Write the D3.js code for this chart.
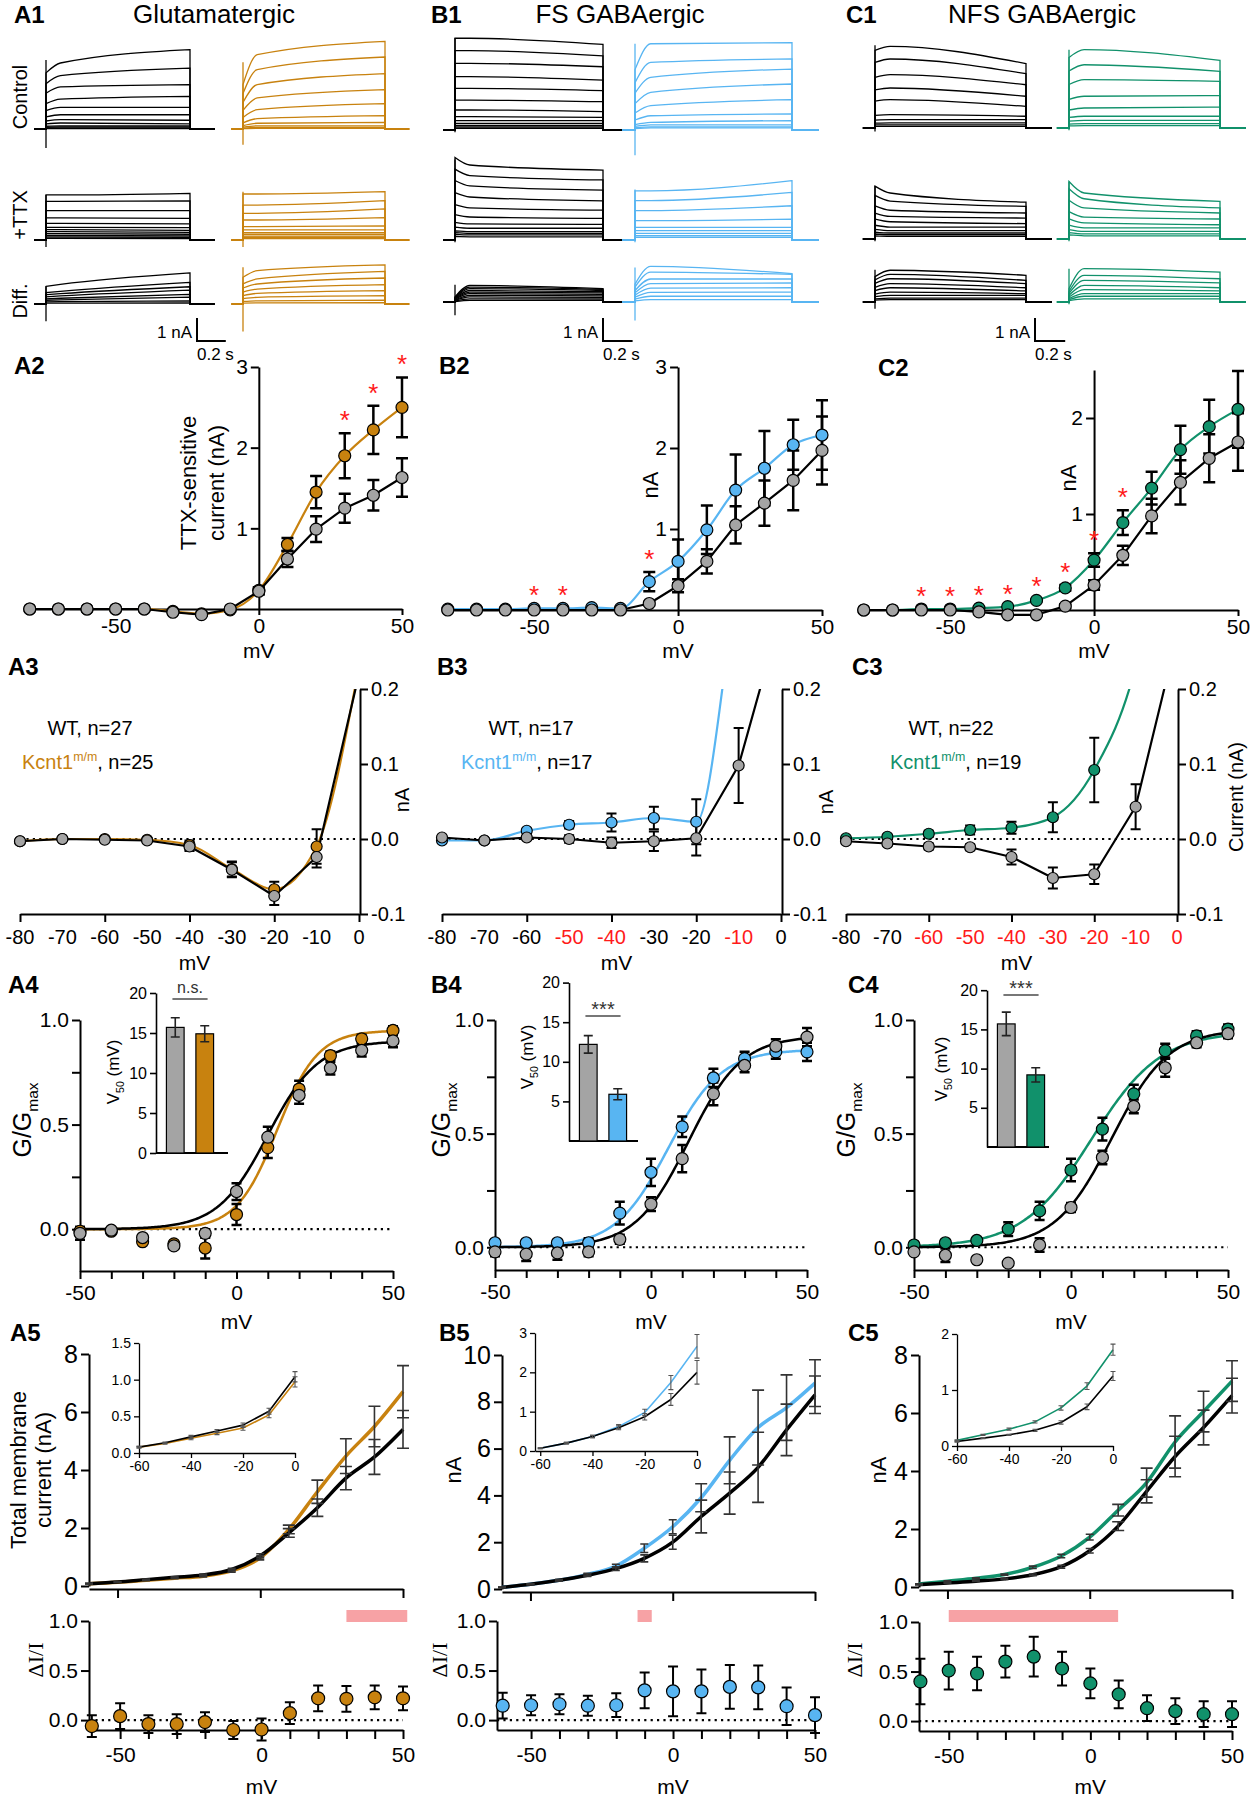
<!DOCTYPE html>
<html>
<head>
<meta charset="utf-8">
<script src="https://cdn.jsdelivr.net/npm/d3@7/dist/d3.min.js"></script>
<style>
  body { margin: 0; background: #fff; }
</style>
</head>
<body>
<script>
// ---------- row 1: current families, each trace = [nA at 0.1 s, nA at end of 1 s step] ----------
var trAControlWt = [[2.87,3.45],[2.32,2.65],[1.83,1.93],[1.3,1.42],[0.94,0.94],[0.62,0.62],[0.41,0.38],[0.26,0.22],[0.14,0.14],[0.09,0.09],[0.05,0.05],[0.02,0.02]];
var trAControlKo = [[3.23,3.81],[2.58,3.13],[1.93,2.41],[1.35,1.71],[0.84,1.1],[0.45,0.58],[0.25,0.29],[0.14,0.14],[0.07,0.07],[0.03,0.03]];
var trATtxWt = [[1.96,2.03],[1.68,1.7],[1.28,1.28],[0.96,0.94],[0.72,0.7],[0.55,0.54],[0.45,0.42],[0.36,0.33],[0.28,0.25],[0.2,0.18],[0.13,0.12],[0.07,0.06]];
var trATtxKo = [[2.0,2.1],[1.52,1.71],[1.16,1.35],[0.87,0.97],[0.58,0.61],[0.44,0.44],[0.32,0.32],[0.25,0.25],[0.17,0.17],[0.12,0.12],[0.06,0.06]];
var trADiffWt = [[0.85,1.35],[0.55,0.94],[0.45,0.75],[0.35,0.6],[0.25,0.42],[0.18,0.3],[0.1,0.14],[0.04,0.05]];
var trADiffKo = [[1.45,1.7],[1.09,1.42],[0.87,1.13],[0.65,0.84],[0.46,0.58],[0.29,0.36],[0.14,0.17],[0.05,0.06]];
var trBControlWt = [[3.99,3.72],[3.45,3.22],[2.9,2.75],[2.32,2.17],[1.81,1.71],[1.3,1.23],[0.87,0.8],[0.58,0.55],[0.41,0.41],[0.29,0.29],[0.2,0.2],[0.13,0.13],[0.07,0.07]];
var trBControlKo = [[3.75,3.8],[2.94,3.09],[2.29,2.65],[1.64,2.0],[1.06,1.32],[0.62,0.7],[0.33,0.41],[0.22,0.22],[0.14,0.14],[0.09,0.09]];
var trBTtxWt = [[3.26,3.04],[2.8,2.61],[2.35,2.17],[1.87,1.7],[1.4,1.3],[1.0,0.94],[0.7,0.68],[0.51,0.51],[0.36,0.36],[0.29,0.29],[0.22,0.22],[0.14,0.14]];
var trBTtxKo = [[2.14,2.58],[1.71,2.07],[1.28,1.49],[0.84,0.91],[0.55,0.55],[0.41,0.41],[0.29,0.29],[0.19,0.19],[0.12,0.12]];
var trBDiffWt = [[0.72,0.58],[0.65,0.55],[0.58,0.5],[0.5,0.45],[0.43,0.4],[0.36,0.33],[0.29,0.27],[0.22,0.2],[0.14,0.13],[0.07,0.07]];
var trBDiffKo = [[1.55,1.23],[1.3,1.2],[1.0,1.0],[0.8,0.83],[0.6,0.62],[0.42,0.43],[0.25,0.25],[0.1,0.1]];
var trCControlWt = [[3.55,2.8],[3.0,2.36],[2.32,1.88],[1.74,1.38],[1.23,0.94],[0.58,0.51],[0.36,0.36],[0.22,0.22],[0.14,0.14],[0.07,0.07]];
var trCControlKo = [[3.41,2.94],[2.75,2.46],[2.1,2.03],[1.38,1.41],[0.87,0.91],[0.51,0.51],[0.33,0.33],[0.19,0.19],[0.1,0.1]];
var trCTtxWt = [[2.0,1.6],[1.65,1.42],[1.25,1.13],[0.98,0.91],[0.75,0.67],[0.52,0.52],[0.36,0.36],[0.26,0.26],[0.19,0.19],[0.12,0.12]];
var trCTtxKo = [[2.0,1.64],[1.75,1.35],[1.35,1.13],[0.95,0.87],[0.7,0.62],[0.48,0.48],[0.33,0.33],[0.22,0.22],[0.14,0.14]];
var trCDiffWt = [[1.38,1.16],[1.2,0.94],[1.01,0.8],[0.8,0.62],[0.62,0.48],[0.43,0.36],[0.29,0.29],[0.17,0.17],[0.1,0.1]];
var trCDiffKo = [[1.45,1.3],[1.16,1.01],[0.94,0.83],[0.72,0.62],[0.54,0.48],[0.36,0.36],[0.25,0.25],[0.14,0.14]];
// level right after onset as a fraction of the 0.1 s level (ctl wt, ctl ko, ttx wt, ttx ko, diff wt, diff ko)
var onsetA = [0.85, 0.6, 1, 1, 0.9, 0.8];
var onsetB = [1, 0.7, 1.1, 1, 0.3, 0.5];
var onsetC = [0.95, 0.9, 1.15, 1.25, 0.8, 0.4];
// capacitive spike at onset [min, max] nA
var spikeA = [[-0.83,3.0],[-0.68,2.9],[-0.3,1.96],[-0.3,2.1],[-0.75,0.77],[-1.2,1.6]];
var spikeB = [[-0.1,4.0],[-1.1,3.75],[-0.1,3.5],[-0.1,2.2],[-0.58,0.75],[-0.8,1.5]];
var spikeC = [[-0.15,3.6],[-0.1,3.4],[-0.1,2.3],[-0.1,2.5],[-0.29,1.4],[-0.1,1.45]];

// ---------- row 2: TTX-sensitive current (nA) ----------
var mV2 = [-80,-70,-60,-50,-40,-30,-20,-10,0,10,20,30,40,50];
var a2Wt = [0,0,0,0,0,-0.04,-0.07,0,0.22,0.62,0.99,1.25,1.41,1.63];
var a2WtErr = [0,0,0,0,0,0.01,0.01,0.01,0.04,0.1,0.16,0.18,0.19,0.24];
var a2Ko = [0,0,0,0,0,-0.03,-0.06,-0.01,0.23,0.8,1.45,1.9,2.22,2.5];
var a2KoErr = [0,0,0,0,0,0.01,0.01,0.02,0.04,0.08,0.2,0.28,0.3,0.37];
var a2Sig = [30,40,50];
var b2Wt = [0,0,0,0,0,0,0,0.08,0.3,0.6,1.05,1.32,1.6,1.97];
var b2WtErr = [0,0,0,0,0,0,0,0.02,0.08,0.15,0.23,0.28,0.37,0.42];
var b2Ko = [0.01,0.01,0.01,0.02,0.02,0.03,0.02,0.35,0.6,0.99,1.48,1.75,2.04,2.16];
var b2KoErr = [0,0,0,0,0,0,0,0.12,0.27,0.3,0.44,0.46,0.31,0.43];
var b2Sig = [-50,-40,-10];
var c2Wt = [0,0,0,0,-0.02,-0.05,-0.05,0.04,0.26,0.57,0.98,1.33,1.58,1.75];
var c2WtErr = [0,0,0,0,0.01,0.01,0.01,0.02,0.05,0.1,0.18,0.23,0.25,0.3];
var c2Ko = [0,0,0.01,0.01,0.02,0.035,0.1,0.23,0.52,0.91,1.27,1.67,1.91,2.09];
var c2KoErr = [0,0,0,0,0,0,0.01,0.03,0.07,0.13,0.17,0.25,0.28,0.4];
var c2Sig = [-60,-50,-40,-30,-20,-10,0,10];

// ---------- row 3: expanded view below 0 mV (nA) ----------
var mV3 = [-80,-70,-60,-50,-40,-30,-20,-10,0];
var a3Wt = [-0.003,0,-0.001,-0.002,-0.01,-0.041,-0.076,-0.024,0.22];
var a3WtErr = [0.002,0.002,0.002,0.002,0.006,0.01,0.012,0.014,0];
var a3Ko = [-0.003,0,0,-0.001,-0.008,-0.04,-0.067,-0.01,0.23];
var a3KoErr = [0.002,0.002,0.002,0.002,0.006,0.01,0.01,0.023,0];
var b3Wt = [0.002,-0.002,0.002,0,-0.005,-0.003,0.001,0.098,0.3];
var b3WtErr = [0.002,0.002,0.003,0.005,0.007,0.013,0.023,0.05,0];
var b3Ko = [-0.002,-0.002,0.011,0.019,0.022,0.028,0.023,0.35,0.6];
var b3KoErr = [0.002,0.002,0.003,0.005,0.012,0.015,0.03,0,0];
var c3Wt = [-0.003,-0.006,-0.01,-0.011,-0.024,-0.052,-0.047,0.043,0.27];
var c3WtErr = [0.002,0.003,0.004,0.004,0.01,0.014,0.013,0.03,0];
var c3Ko = [0.001,0.003,0.007,0.012,0.015,0.029,0.092,0.23,0.52];
var c3KoErr = [0.002,0.003,0.004,0.006,0.008,0.02,0.043,0,0];
var a3Red = [];
var b3Red = [-50,-40,-10];
var c3Red = [-60,-50,-40,-30,-20,-10,0];
var nA3 = ["27","25"], nB3 = ["17","17"], nC3 = ["22","19"];

// ---------- row 4: G/Gmax, Boltzmann fits [Gmax, V50, k], V50 bars ----------
var mV4 = [-50,-40,-30,-20,-10,0,10,20,30,40,50];
var a4Wt = [-0.02,-0.005,-0.04,-0.08,-0.02,0.18,0.44,0.64,0.77,0.855,0.9];
var a4WtErr = [0.03,0.01,0.01,0.01,0.02,0.04,0.05,0.04,0.03,0.03,0.03];
var a4Ko = [-0.01,-0.01,-0.06,-0.07,-0.09,0.07,0.39,0.67,0.83,0.91,0.95];
var a4KoErr = [0.02,0.01,0.01,0.01,0.05,0.05,0.05,0.04,0.02,0.02,0.02];
var b4Wt = [-0.02,-0.03,-0.025,-0.02,0.035,0.19,0.39,0.675,0.8,0.885,0.925];
var b4WtErr = [0.02,0.03,0.03,0.02,0.02,0.03,0.06,0.05,0.03,0.03,0.04];
var b4Ko = [0.02,0.02,0.02,0.02,0.15,0.33,0.53,0.745,0.83,0.86,0.86];
var b4KoErr = [0.01,0.01,0.01,0.02,0.05,0.06,0.045,0.04,0.03,0.03,0.04];
var c4Wt = [-0.02,-0.035,-0.055,-0.07,0.01,0.175,0.395,0.62,0.79,0.9,0.94];
var c4WtErr = [0.01,0.03,0.01,0.01,0.03,0.02,0.03,0.03,0.04,0.02,0.02];
var c4Ko = [0.01,0.02,0.03,0.08,0.16,0.34,0.52,0.675,0.865,0.93,0.96];
var c4KoErr = [0.01,0.01,0.01,0.03,0.04,0.05,0.05,0.04,0.03,0.02,0.02];
var a4Fit = [[0.9,10,8],[0.95,13,6.5]];
var b4Fit = [[0.93,12,8.5],[0.87,5.5,8.5]];
var c4Fit = [[0.96,13,9],[0.95,6.5,11]];
var a4V50 = [15.7,14.9], a4V50Err = [1.2,1.0];
var b4V50 = [12.2,5.9], b4V50Err = [1.1,0.7];
var c4V50 = [15.7,9.2], c4V50Err = [1.5,0.9];

// ---------- row 5: total membrane current (nA) ----------
var mV5 = [-60,-50,-40,-30,-20,-10,0,10,20,30,40,50];
var a5Wt = [0.08,0.14,0.22,0.3,0.38,0.57,1.04,1.83,2.7,3.72,4.45,5.4];
var a5WtErr = [0.01,0.01,0.02,0.02,0.03,0.04,0.07,0.15,0.3,0.4,0.6,0.65];
var a5Ko = [0.08,0.13,0.2,0.27,0.34,0.52,0.97,1.95,3.25,4.48,5.5,6.7];
var a5KoErr = [0.01,0.01,0.02,0.02,0.03,0.04,0.07,0.15,0.4,0.6,0.7,0.9];
var b5Wt = [0.07,0.2,0.37,0.59,0.87,1.31,2.0,3.1,4.1,5.2,6.8,8.3];
var b5WtErr = [0.01,0.02,0.03,0.05,0.08,0.15,0.3,0.7,0.9,1.5,1.1,0.8];
var b5Ko = [0.07,0.2,0.37,0.62,0.98,1.74,2.66,3.9,5.5,6.9,7.75,8.8];
var b5KoErr = [0.01,0.02,0.03,0.05,0.08,0.18,0.3,0.6,1.0,1.6,1.4,1.0];
var c5Wt = [0.08,0.14,0.2,0.28,0.42,0.7,1.25,2.1,3.3,4.5,5.5,6.6];
var c5WtErr = [0.01,0.01,0.01,0.02,0.03,0.05,0.08,0.15,0.4,0.7,0.6,0.6];
var c5Ko = [0.1,0.2,0.3,0.43,0.68,1.07,1.72,2.65,3.6,5.0,6.05,7.1];
var c5KoErr = [0.01,0.01,0.02,0.02,0.04,0.06,0.1,0.2,0.5,0.9,0.7,0.7];

// ---------- row 6: relative difference dI/I ----------
var mV6 = [-60,-50,-40,-30,-20,-10,0,10,20,30,40,50];
var a6 = [-0.06,0.04,-0.04,-0.04,-0.02,-0.1,-0.095,0.07,0.22,0.215,0.23,0.22];
var a6Err = [0.11,0.13,0.09,0.1,0.1,0.09,0.11,0.11,0.13,0.13,0.12,0.12];
var b6 = [0.145,0.15,0.16,0.145,0.15,0.3,0.29,0.29,0.335,0.33,0.14,0.05];
var b6Err = [0.13,0.1,0.1,0.1,0.12,0.18,0.25,0.22,0.22,0.22,0.19,0.18];
var c6 = [0.4,0.51,0.48,0.6,0.65,0.53,0.38,0.27,0.13,0.1,0.07,0.07];
var c6Err = [0.23,0.19,0.17,0.16,0.2,0.17,0.15,0.14,0.13,0.13,0.13,0.13];
var a6Sig = [30,51.5], b6Sig = [-12.5,-7.5], c6Sig = [-50,9.8];

// ---------- drawing ----------
var FONT = "'Liberation Sans', Arial, Helvetica, sans-serif";
var ORANGE = "#c8820f", BLUE = "#58b5f2", GREEN = "#11916b", GRAY = "#a4a4a4", RED = "#ff1a1a", PINK = "#f7a2a5";
var NA_PX = 23;

var svg = d3.select("body").append("svg").attr("width", 1253).attr("height", 1800)
  .style("font-family", FONT);
svg.append("rect").attr("width", 1253).attr("height", 1800).attr("fill", "#fff");

var fmtInt = function (d) { return String(d); };
var fmt1 = function (d) { return d.toFixed(1); };

function label(x, y, parts, size, o) {
  o = o || {};
  var t = svg.append("text")
    .attr("transform", "translate(" + x + "," + y + ")" + (o.rot ? " rotate(" + o.rot + ")" : ""))
    .attr("text-anchor", o.anchor || "middle")
    .attr("dy", "0.35em")
    .attr("font-size", size)
    .attr("font-family", o.family || FONT)
    .attr("font-weight", o.weight || "normal")
    .attr("fill", o.fill || "#000");
  if (typeof parts === "string") parts = [parts];
  var shift = 0;
  parts.forEach(function (p) {
    if (typeof p === "string") p = { t: p };
    var s = t.append("tspan").text(p.t);
    if (p.sub || p.sup) {
      var d = p.sub ? size * 0.3 : -size * 0.38;
      s.attr("font-size", size * 0.62).attr("dy", d - shift);
      shift = d;
    } else if (shift) {
      s.attr("dy", -shift);
      shift = 0;
    }
    if (p.fill) s.attr("fill", p.fill);
  });
  return t;
}

function styleAxis(a, fs, sw) {
  a.attr("font-family", FONT).attr("font-size", fs);
  a.select(".domain").attr("stroke", "#000").attr("stroke-width", sw || 2);
  a.selectAll(".tick line").attr("stroke", "#000").attr("stroke-width", sw || 2);
  a.selectAll(".tick text").attr("fill", "#000");
  return a;
}

function lineOf(g, x, y, xs, vals, color, lw, curve, clip) {
  g.append("path")
    .datum(xs.map(function (v, i) { return [v, vals[i]]; }))
    .attr("d", d3.line().x(function (d) { return x(d[0]); }).y(function (d) { return y(d[1]); }).curve(curve || d3.curveLinear))
    .attr("fill", "none").attr("stroke", color).attr("stroke-width", lw)
    .attr("stroke-linejoin", "round")
    .attr("clip-path", clip ? "url(#" + clip + ")" : null);
}

function errBars(g, x, y, xs, vals, errs, color, sw, cap) {
  xs.forEach(function (v, i) {
    var e = errs[i];
    if (!e) return;
    var cx = x(v), y1 = y(vals[i] + e), y2 = y(vals[i] - e);
    g.append("path")
      .attr("d", "M" + cx + "," + y1 + "V" + y2 + "M" + (cx - cap / 2) + "," + y1 + "h" + cap + "M" + (cx - cap / 2) + "," + y2 + "h" + cap)
      .attr("stroke", color).attr("stroke-width", sw).attr("fill", "none");
  });
}

function dots(g, x, y, xs, vals, fill, r) {
  g.selectAll(null).data(xs).enter().append("circle")
    .attr("cx", function (d) { return x(d); })
    .attr("cy", function (d, i) { return y(vals[i]); })
    .attr("r", r).attr("fill", fill).attr("stroke", "#000").attr("stroke-width", 1.2);
}

function dotted(g, x1, x2, yy) {
  g.append("line").attr("x1", x1).attr("x2", x2).attr("y1", yy).attr("y2", yy)
    .attr("stroke", "#000").attr("stroke-width", 2.2).attr("stroke-dasharray", "2.2,4.2");
}

// ---- row 1 ----
function traceFamily(g, xr, base, fam, color, onset, spike) {
  var t = d3.scaleLinear().domain([0, 1]).range(xr);
  var a = d3.scaleLinear().domain([0, 1]).range([base, base - NA_PX]);
  var curve = d3.line().x(function (d) { return t(d[0]); }).y(function (d) { return a(d[1]); }).curve(d3.curveMonotoneX);
  fam.forEach(function (p) {
    var mid = curve([[0, p[0] * onset], [0.1, p[0]], [1, p[1]]]);
    var d = "M" + t(-0.08) + "," + base + "H" + t(0) + "L" + mid.slice(1) + "V" + base + "H" + t(1.17);
    g.append("path").attr("d", d).attr("fill", "none").attr("stroke", color).attr("stroke-width", 1.3);
  });
  g.append("path").attr("d", "M" + t(0) + "," + a(spike[0]) + "V" + a(spike[1]))
    .attr("stroke", color).attr("stroke-width", 1.3);
}

var traceCols = [
  { wt: [46, 190], ko: [243, 385], base: [129, 240, 304], color: ORANGE, onset: onsetA, spike: spikeA,
    fam: [trAControlWt, trAControlKo, trATtxWt, trATtxKo, trADiffWt, trADiffKo], bar: 197 },
  { wt: [455, 603], ko: [635, 792], base: [130, 240, 302], color: BLUE, onset: onsetB, spike: spikeB,
    fam: [trBControlWt, trBControlKo, trBTtxWt, trBTtxKo, trBDiffWt, trBDiffKo], bar: 603 },
  { wt: [875, 1026], ko: [1069, 1220], base: [128, 239, 302], color: GREEN, onset: onsetC, spike: spikeC,
    fam: [trCControlWt, trCControlKo, trCTtxWt, trCTtxKo, trCDiffWt, trCDiffKo], bar: 1035 }
];
traceCols.forEach(function (c) {
  var g = svg.append("g");
  for (var r = 0; r < 3; r++) {
    traceFamily(g, c.wt, c.base[r], c.fam[2 * r], "#000", c.onset[2 * r], c.spike[2 * r]);
    traceFamily(g, c.ko, c.base[r], c.fam[2 * r + 1], c.color, c.onset[2 * r + 1], c.spike[2 * r + 1]);
  }
  var w = 0.2 * (c.wt[1] - c.wt[0]);
  g.append("path").attr("d", "M" + c.bar + ",318V" + (318 + NA_PX) + "h" + w)
    .attr("fill", "none").attr("stroke", "#000").attr("stroke-width", 2);
  label(c.bar - 5, 332, "1 nA", 17, { anchor: "end" });
  label(c.bar, 354, "0.2 s", 17, { anchor: "start" });
});
label(20, 97, "Control", 20, { rot: -90 });
label(20, 215, "+TTX", 20, { rot: -90 });
label(20, 301, "Diff.", 20, { rot: -90 });
label(214, 14, "Glutamatergic", 26);
label(620, 14, "FS GABAergic", 26);
label(1042, 14, "NFS GABAergic", 26);

// ---- row 2 ----
function ivPanel(p) {
  var x = d3.scaleLinear().domain([-82, 50]).range(p.xr);
  var y = d3.scaleLinear().domain([0, p.ymax]).range(p.yr);
  var g = svg.append("g");
  styleAxis(g.append("g").attr("transform", "translate(0," + y(0) + ")")
    .call(d3.axisBottom(x).tickValues([-50, 0, 50]).tickSize(6).tickSizeOuter(0).tickPadding(3).tickFormat(fmtInt)), 21);
  styleAxis(g.append("g").attr("transform", "translate(" + x(0) + ",0)")
    .call(d3.axisLeft(y).tickValues(p.yt).tickSize(8).tickSizeOuter(0).tickPadding(3).tickFormat(fmtInt)), 21);
  lineOf(g, x, y, mV2, p.ko, p.color, 2.2, d3.curveMonotoneX);
  lineOf(g, x, y, mV2, p.wt, "#000", 2.2, d3.curveLinear);
  errBars(g, x, y, mV2, p.ko, p.koE, "#000", 2.5, 12);
  errBars(g, x, y, mV2, p.wt, p.wtE, "#000", 2.5, 12);
  dots(g, x, y, mV2, p.ko, p.color, 6);
  dots(g, x, y, mV2, p.wt, GRAY, 6);
  p.sig.forEach(function (v) {
    var i = mV2.indexOf(v);
    var top = Math.max(p.wt[i] + p.wtE[i], p.ko[i] + p.koE[i]);
    g.append("text").attr("x", x(v)).attr("y", y(top) - 4).attr("text-anchor", "middle")
      .attr("font-size", 26).attr("fill", RED).text("*");
  });
  label(x(0), 651, "mV", 21);
}
ivPanel({ xr: [24, 402], yr: [609, 367], ymax: 3, yt: [1, 2, 3], wt: a2Wt, wtE: a2WtErr, ko: a2Ko, koE: a2KoErr, sig: a2Sig, color: ORANGE });
ivPanel({ xr: [442, 822], yr: [610, 367], ymax: 3, yt: [1, 2, 3], wt: b2Wt, wtE: b2WtErr, ko: b2Ko, koE: b2KoErr, sig: b2Sig, color: BLUE });
ivPanel({ xr: [858, 1238], yr: [610, 370], ymax: 2.5, yt: [1, 2], wt: c2Wt, wtE: c2WtErr, ko: c2Ko, koE: c2KoErr, sig: c2Sig, color: GREEN });
label(188, 483, "TTX-sensitive", 22, { rot: -90 });
label(216, 483, "current (nA)", 22, { rot: -90 });
label(650, 485, "nA", 22, { rot: -90 });
label(1068, 478, "nA", 22, { rot: -90 });

// ---- row 3 ----
function smallIv(p) {
  var x = d3.scaleLinear().domain([-80, 0]).range(p.xr);
  var y = d3.scaleLinear().domain([-0.1, 0.2]).range([914, 689]);
  var g = svg.append("g");
  g.append("clipPath").attr("id", p.id).append("rect")
    .attr("x", p.xr[0] - 10).attr("y", 689).attr("width", p.xr[1] - p.xr[0] + 12).attr("height", 225);
  styleAxis(g.append("g").attr("transform", "translate(0,914)")
    .call(d3.axisBottom(x).tickValues([-80, -60, -40, -20, 0]).tickSize(8).tickSizeOuter(0).tickFormat("")), 20);
  styleAxis(g.append("g").attr("transform", "translate(" + (x(0) + 1) + ",0)")
    .call(d3.axisRight(y).tickValues([-0.1, 0, 0.1, 0.2]).tickSize(8).tickSizeOuter(0).tickPadding(3).tickFormat(fmt1)), 20);
  dotted(g, x(-80), x(0), y(0));
  mV3.forEach(function (v) {
    g.append("text").attr("x", x(v)).attr("y", 944).attr("text-anchor", "middle").attr("font-size", 20)
      .attr("fill", p.red.indexOf(v) >= 0 ? RED : "#000").text(fmtInt(v));
  });
  lineOf(g, x, y, mV3, p.ko, p.color, 2.2, d3.curveMonotoneX, p.id);
  lineOf(g, x, y, mV3, p.wt, "#000", 2.2, d3.curveLinear, p.id);
  var inside = function (arr) { return mV3.filter(function (v, i) { return arr[i] <= 0.2; }); };
  var keep = function (arr) { return arr.filter(function (v) { return v <= 0.2; }); };
  errBars(g, x, y, inside(p.ko), keep(p.ko), p.koE, "#000", 2, 10);
  errBars(g, x, y, inside(p.wt), keep(p.wt), p.wtE, "#000", 2, 10);
  dots(g, x, y, inside(p.ko), keep(p.ko), p.color, 5.5);
  dots(g, x, y, inside(p.wt), keep(p.wt), GRAY, 5.5);
  label(p.leg[0], 728, "WT, n=" + p.n[0], 20);
  label(p.leg[1], 762, [{ t: "Kcnt1", fill: p.color }, { t: "m/m", sup: true, fill: p.color }, ", n=" + p.n[1]], 20, { anchor: "start" });
  label((p.xr[0] + p.xr[1]) / 2 + 5, 963, "mV", 21);
}
smallIv({ id: "cA3", xr: [20, 359], wt: a3Wt, wtE: a3WtErr, ko: a3Ko, koE: a3KoErr, color: ORANGE, red: a3Red, n: nA3, leg: [90, 22] });
smallIv({ id: "cB3", xr: [442, 781], wt: b3Wt, wtE: b3WtErr, ko: b3Ko, koE: b3KoErr, color: BLUE, red: b3Red, n: nB3, leg: [531, 461] });
smallIv({ id: "cC3", xr: [846, 1177], wt: c3Wt, wtE: c3WtErr, ko: c3Ko, koE: c3KoErr, color: GREEN, red: c3Red, n: nC3, leg: [951, 890] });
label(402, 800, "nA", 20, { rot: -90 });
label(826, 802, "nA", 20, { rot: -90 });
label(1236, 797, "Current (nA)", 20, { rot: -90 });

// ---- row 4 ----
function gPanel(p) {
  var x = d3.scaleLinear().domain([-50, 50]).range(p.xr);
  var y = d3.scaleLinear().domain([p.ymin, 1]).range([p.yb, 1020]);
  var g = svg.append("g");
  styleAxis(g.append("g").attr("transform", "translate(0," + p.yb + ")")
    .call(d3.axisBottom(x).tickValues(mV4).tickSize(8).tickSizeOuter(0).tickPadding(6)
      .tickFormat(function (d) { return d % 50 === 0 ? fmtInt(d) : ""; })), 21);
  styleAxis(g.append("g").attr("transform", "translate(" + x(-50) + ",0)")
    .call(d3.axisLeft(y).tickValues([0, 0.25, 0.5, 0.75, 1]).tickSize(8).tickSizeOuter(0).tickPadding(3)
      .tickFormat(function (d) { return d % 0.5 === 0 ? fmt1(d) : ""; })), 21);
  dotted(g, x(-50), x(50), y(0));
  var vs = d3.range(-50, 50.01, 0.5);
  [[p.fit[1], p.color], [p.fit[0], "#000"]].forEach(function (f) {
    var b = f[0];
    g.append("path").datum(vs)
      .attr("d", d3.line().x(function (v) { return x(v); }).y(function (v) { return y(b[0] / (1 + Math.exp((b[1] - v) / b[2]))); }))
      .attr("fill", "none").attr("stroke", f[1]).attr("stroke-width", 2.5);
  });
  errBars(g, x, y, mV4, p.ko, p.koE, "#000", 2.5, 10);
  errBars(g, x, y, mV4, p.wt, p.wtE, "#000", 2.5, 10);
  dots(g, x, y, mV4, p.ko, p.color, 6);
  dots(g, x, y, mV4, p.wt, GRAY, 6);
  label(x(0), 1322, "mV", 21);

  // V50 inset
  var iy = d3.scaleLinear().domain([0, 20]).range([p.inset.yb, p.inset.yb - 160 * p.inset.k]);
  var ix = d3.scaleBand().domain(["WT", "KO"]).range([p.inset.x + 6, p.inset.x + 62]).paddingInner(0.4).paddingOuter(0.15);
  var ig = svg.append("g");
  styleAxis(ig.append("g").attr("transform", "translate(" + p.inset.x + ",0)")
    .call(d3.axisLeft(iy).tickValues(p.inset.ticks).tickSize(6).tickSizeOuter(0).tickPadding(3).tickFormat(fmtInt)), 16, 1.6);
  ig.append("line").attr("x1", p.inset.x).attr("x2", p.inset.xe).attr("y1", iy(0)).attr("y2", iy(0))
    .attr("stroke", "#000").attr("stroke-width", 2);
  [["WT", GRAY], ["KO", p.color]].forEach(function (b, i) {
    ig.append("rect").attr("x", ix(b[0])).attr("width", ix.bandwidth()).attr("y", iy(p.v50[i]))
      .attr("height", iy(0) - iy(p.v50[i])).attr("fill", b[1]).attr("stroke", "#000").attr("stroke-width", 1.2);
  });
  errBars(ig, function (k) { return ix(k) + ix.bandwidth() / 2; }, iy, ["WT", "KO"], p.v50, p.v50E, "#222", 1.6, 9);
  ig.append("line").attr("x1", ix("WT") + 6).attr("x2", ix("KO") + ix.bandwidth() - 6)
    .attr("y1", p.inset.sy).attr("y2", p.inset.sy).attr("stroke", "#777").attr("stroke-width", 2);
  label((ix("WT") + ix("KO") + ix.bandwidth()) / 2, p.inset.sy - 12 + (p.inset.stars ? 5 : 0), p.inset.stars ? "***" : "n.s.", p.inset.stars ? 20 : 16, { fill: "#333" });
  label(p.inset.lx, p.inset.ly, ["V", { t: "50", sub: true }, " (mV)"], 17, { rot: -90 });
}
gPanel({ xr: [80, 393], ymin: -0.2, yb: 1271, wt: a4Wt, wtE: a4WtErr, ko: a4Ko, koE: a4KoErr, fit: a4Fit, color: ORANGE,
  v50: a4V50, v50E: a4V50Err, inset: { x: 156, yb: 1153, k: 1, xe: 228, ticks: [0, 5, 10, 15, 20], sy: 999, stars: false, lx: 113, ly: 1072 } });
gPanel({ xr: [495, 807], ymin: -0.1, yb: 1270, wt: b4Wt, wtE: b4WtErr, ko: b4Ko, koE: b4KoErr, fit: b4Fit, color: BLUE,
  v50: b4V50, v50E: b4V50Err, inset: { x: 569, yb: 1141, k: 0.99, xe: 638, ticks: [5, 10, 15, 20], sy: 1016, stars: true, lx: 527, ly: 1057 } });
gPanel({ xr: [914, 1228], ymin: -0.1, yb: 1270, wt: c4Wt, wtE: c4WtErr, ko: c4Ko, koE: c4KoErr, fit: c4Fit, color: GREEN,
  v50: c4V50, v50E: c4V50Err, inset: { x: 987, yb: 1147, k: 0.98, xe: 1049, ticks: [5, 10, 15, 20], sy: 995, stars: true, lx: 941, ly: 1069 } });
label(22, 1120, ["G/G", { t: "max", sub: true }], 25, { rot: -90 });
label(441, 1120, ["G/G", { t: "max", sub: true }], 25, { rot: -90 });
label(846, 1120, ["G/G", { t: "max", sub: true }], 25, { rot: -90 });

// ---- row 5 ----
function totPanel(p) {
  var x = d3.scaleLinear().domain([-60, 50]).range(p.xr);
  var y = d3.scaleLinear().domain([0, p.ymax]).range([p.y0, p.ytop]);
  var g = svg.append("g");
  styleAxis(g.append("g").attr("transform", "translate(0," + (p.y0 + 3) + ")")
    .call(d3.axisBottom(x).tickValues([-50, 0, 50]).tickSize(9).tickSizeOuter(0).tickFormat("")), 20);
  styleAxis(g.append("g").attr("transform", "translate(" + p.xr[0] + ",0)")
    .call(d3.axisLeft(y).tickValues(p.yt).tickSize(8).tickSizeOuter(0).tickPadding(3).tickFormat(fmtInt)), 25);
  lineOf(g, x, y, mV5, p.ko, p.color, 3.5, d3.curveMonotoneX);
  lineOf(g, x, y, mV5, p.wt, "#000", 3.5, d3.curveMonotoneX);
  errBars(g, x, y, mV5.slice(7), p.ko.slice(7), p.koE.slice(7), "#333", 1.6, 12);
  errBars(g, x, y, mV5.slice(7), p.wt.slice(7), p.wtE.slice(7), "#333", 1.6, 12);
  errBars(g, x, y, mV5.slice(0, 7), p.ko.slice(0, 7), p.koE.slice(0, 7), "#333", 1.6, 8);
  errBars(g, x, y, mV5.slice(0, 7), p.wt.slice(0, 7), p.wtE.slice(0, 7), "#333", 1.6, 8);

  // inset, -60..0 mV
  var n = 7, q = p.inset;
  var ix = d3.scaleLinear().domain([q.xmin, 0]).range([q.x0, q.x1]);
  var iy = d3.scaleLinear().domain([0, q.ymax]).range([q.yb, q.yt]);
  var ig = svg.append("g");
  styleAxis(ig.append("g").attr("transform", "translate(0," + q.yb + ")")
    .call(d3.axisBottom(ix).tickValues([-60, -40, -20, 0]).tickSize(5).tickSizeOuter(0).tickPadding(3).tickFormat(fmtInt)), 14, 1.3);
  styleAxis(ig.append("g").attr("transform", "translate(" + q.x0 + ",0)")
    .call(d3.axisLeft(iy).tickValues(q.ticks).tickSize(5).tickSizeOuter(0).tickPadding(3).tickFormat(q.fmt)), 14, 1.3);
  lineOf(ig, ix, iy, mV5.slice(0, n), p.ko.slice(0, n), p.color, 1.6, d3.curveLinear);
  lineOf(ig, ix, iy, mV5.slice(0, n), p.wt.slice(0, n), "#000", 1.6, d3.curveLinear);
  errBars(ig, ix, iy, mV5.slice(0, n), p.ko.slice(0, n), p.koE.slice(0, n), "#555", 1.1, 5);
  errBars(ig, ix, iy, mV5.slice(0, n), p.wt.slice(0, n), p.wtE.slice(0, n), "#555", 1.1, 5);
}
totPanel({ xr: [89, 403], y0: 1586, ytop: 1354, ymax: 8, yt: [0, 2, 4, 6, 8], wt: a5Wt, wtE: a5WtErr, ko: a5Ko, koE: a5KoErr, color: ORANGE,
  inset: { xmin: -60, x0: 139, x1: 295, yb: 1453, yt: 1343, ymax: 1.5, ticks: [0, 0.5, 1, 1.5], fmt: fmt1 } });
totPanel({ xr: [502, 815], y0: 1589, ytop: 1355, ymax: 10, yt: [0, 2, 4, 6, 8, 10], wt: b5Wt, wtE: b5WtErr, ko: b5Ko, koE: b5KoErr, color: BLUE,
  inset: { xmin: -62, x0: 535, x1: 697, yb: 1451, yt: 1333, ymax: 3, ticks: [0, 1, 2, 3], fmt: fmtInt } });
totPanel({ xr: [919, 1232], y0: 1587, ytop: 1355, ymax: 8, yt: [0, 2, 4, 6, 8], wt: c5Wt, wtE: c5WtErr, ko: c5Ko, koE: c5KoErr, color: GREEN,
  inset: { xmin: -60, x0: 957, x1: 1113, yb: 1446, yt: 1334, ymax: 2, ticks: [0, 1, 2], fmt: fmtInt } });
label(18, 1470, "Total membrane", 22, { rot: -90 });
label(43, 1470, "current (nA)", 22, { rot: -90 });
label(453, 1470, "nA", 22, { rot: -90 });
label(878, 1470, "nA", 22, { rot: -90 });

// ---- row 6 ----
function diffPanel(p) {
  var x = d3.scaleLinear().domain([p.xmin, 50]).range(p.xr);
  var y = d3.scaleLinear().domain([-0.1, 1]).range([p.yb, p.yb - 109]);
  var g = svg.append("g");
  g.append("rect").attr("x", x(p.sig[0])).attr("width", x(p.sig[1]) - x(p.sig[0]))
    .attr("y", 1610).attr("height", 12).attr("fill", PINK);
  styleAxis(g.append("g").attr("transform", "translate(0," + p.yb + ")")
    .call(d3.axisBottom(x).tickValues([-50, -40, -30, -20, -10, 0, 10, 20, 30, 40, 50]).tickSize(9).tickSizeOuter(0).tickPadding(8)
      .tickFormat(function (d) { return d % 50 === 0 ? fmtInt(d) : ""; })), 21);
  styleAxis(g.append("g").attr("transform", "translate(" + p.xr[0] + ",0)")
    .call(d3.axisLeft(y).tickValues([0, 0.5, 1]).tickSize(8).tickSizeOuter(0).tickPadding(3).tickFormat(fmt1)), 21);
  dotted(g, p.xr[0], p.xr[1], y(0));
  errBars(g, x, y, mV6, p.v, p.e, "#000", 2, 10);
  dots(g, x, y, mV6, p.v, p.color, 6.5);
  label(x(0), 1787, "mV", 21);
}
diffPanel({ xmin: -61, xr: [89, 403], yb: 1730, v: a6, e: a6Err, color: ORANGE, sig: a6Sig });
diffPanel({ xmin: -62, xr: [497, 815], yb: 1730, v: b6, e: b6Err, color: BLUE, sig: b6Sig });
diffPanel({ xmin: -60.5, xr: [919, 1232], yb: 1731, v: c6, e: c6Err, color: GREEN, sig: c6Sig });
label(35, 1660, "\u0394I/I", 22, { rot: -90, family: "'Liberation Serif', 'Times New Roman', serif" });
label(439, 1660, "\u0394I/I", 22, { rot: -90, family: "'Liberation Serif', 'Times New Roman', serif" });
label(854, 1660, "\u0394I/I", 22, { rot: -90, family: "'Liberation Serif', 'Times New Roman', serif" });

// ---- panel letters ----
[["A1", 14, 15], ["B1", 431, 15], ["C1", 846, 15],
 ["A2", 14, 366], ["B2", 439, 366], ["C2", 878, 368],
 ["A3", 8, 667], ["B3", 437, 667], ["C3", 852, 667],
 ["A4", 8, 985], ["B4", 431, 985], ["C4", 848, 985],
 ["A5", 10, 1333], ["B5", 439, 1333], ["C5", 848, 1333]].forEach(function (l) {
  label(l[1], l[2], l[0], 24, { anchor: "start", weight: "bold" });
});
</script>
</body>
</html>
